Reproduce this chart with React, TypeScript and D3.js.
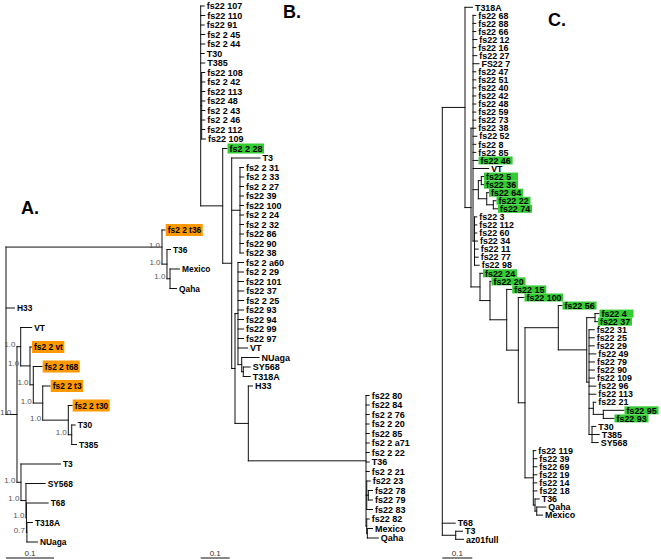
import React, { useEffect, useRef } from "react";
import * as d3 from "d3";

// ---------- DATA (Newick trees, branch lengths in substitutions/site) ----------
const newickA =
  "((fs2_2_t36:0.0067,(T36:0.0073,(Mexico:0.0198,Qaha:0.0135)1.0:0.0063)1.0:0.0104)1.0:0.325,H33:0.0177," +
  "((VT:0.0229,(fs2_2_vt:0.0031,(fs2_2_t68:0.0185,(fs2_2_t3:0.0156,(fs2_2_t30:0.0081,(T30:0.0073,T385:0.01)1.0:0.0071)1.0:0.0533)1.0:0.0196)1.0:0.0069)1.0:0.0194)1.0:0.0077," +
  "(T3:0.0823,(SY568:0.04,(T68:0.0452,(T318A:0.0115,NUaga:0.0219)0.7:0.001)1.0:0.001)1.0:0.0104)1.0:0.0083)1.0:0.0229);";

const newickB =
  "(fs22_107:0.0121,fs22_110:0.0141,fs22_91:0.0121,fs2_2_45:0.0141,fs2_2_44:0.0141,T30:0.0121,T385:0.0141," +
  "(fs22_108:0.0107,fs2_2_42:0.0107,fs22_113:0.0107,fs22_48:0.0107,fs2_2_43:0.0107,fs2_2_46:0.0107,fs22_112:0.0107,fs22_109:0.0131):0.0034," +
  "(fs2_2_28:0.0148,(T3:0.0976," +
  "(fs2_2_31:0.0121,fs2_2_33:0.0128,fs2_2_27:0.0121,fs22_39:0.0121,fs22_100:0.0121,fs2_2_24:0.0121,fs2_2_32:0.0121,fs22_86:0.0121,fs22_90:0.0121,fs22_38:0.0121):0.0286," +
  "((fs2_2_a60:0.019,fs2_2_29:0.019,fs22_101:0.019,fs22_37:0.0197,fs2_2_25:0.0197,fs22_93:0.019,fs22_94:0.019,fs22_99:0.019,fs22_97:0.019,VT:0.0328," +
  "(NUaga:0.0597,(SY568:0.0238,T318A:0.0238):0.0055):0.0128):0.0103," +
  "(H33:0.0145,(fs22_80:0.011,fs22_84:0.011,fs2_2_76:0.011,fs2_2_20:0.011,fs22_85:0.011,fs2_2_a71:0.011,fs2_2_22:0.011,T36:0.011,fs2_2_21:0.011," +
  "(fs22_23:0.0121,(fs22_78:0.0145,fs22_79:0.0145):0.0055,fs22_83:0.02):0.0024," +
  "(fs22_82:0.0086,(Mexico:0.0179,Qaha:0.0379):0.0021):0.0024):0.4059):0.0459):0.0114):0.031):0.0759);";

const newickC =
  "((T318A:0.025,((" +
  "fs22_68:0.0093,fs22_88:0.0093,fs22_66:0.0093,fs22_12:0.0127,fs22_16:0.0093,fs22_27:0.0127,FS22_7:0.02,fs22_47:0.0093,fs22_51:0.0093," +
  "fs22_40:0.0093,fs22_42:0.0093,fs22_48:0.0093,fs22_59:0.0093,fs22_73:0.0093,fs22_38:0.0093,fs22_52:0.0127,fs22_8:0.0093,fs22_85:0.0093," +
  "fs22_46:0.017,VT:0.0523,((fs22_5:0.0073,fs22_36:0.0073):0.01,(fs22_64:0.006,(fs22_22:0.009,fs22_74:0.014):0.022):0.028):0.0177," +
  "(fs22_3:0.0077,fs22_112:0.0077,fs22_60:0.0077,fs22_34:0.01,fs22_11:0.0123,fs22_77:0.0123,fs22_98:0.0157):0.005):0.0067," +
  "(fs22_24:0.0083,(fs22_20:0.0033,(fs22_15:0.0167,(fs22_100:0.019,(" +
  "(fs22_56:0.0123,((fs22_4:0.0133,fs22_37:0.0083):0.0277,(fs22_31:0.0173,fs22_25:0.0173,fs22_29:0.0173,fs22_49:0.0227,fs22_79:0.018,fs22_90:0.018," +
  "fs22_109:0.018,fs22_96:0.0227,fs22_113:0.0227,(fs22_21:0.0083,(fs22_95:0.069,fs22_93:0.0357):0.0333):0.0143," +
  "(T30:0.0127,T385:0.024,SY568:0.0207):0.01):0.0077):0.0947):0.111," +
  "(fs22_119:0.0083,fs22_39:0.0117,fs22_69:0.0117,fs22_19:0.0117,fs22_14:0.0117,fs22_18:0.0123,(T36:0.014,(Qaha:0.0303,Mexico:0.0193):0.0057):0.0057):0.0277" +
  "):0.0223):0.0387):0.0557):0.0333):0.03):0.02):0.0757,T68:0.043,(T3:0.0227,az01full:0.026):0.0447);";

const orangeLeavesA = ["fs2 2 t36", "fs2 2 vt", "fs2 2 t68", "fs2 2 t3", "fs2 2 t30"];
const greenLeavesB = ["fs2 2 28"];
const greenLeavesC = [
  "fs22 46", "fs22 5", "fs22 36", "fs22 64", "fs22 22", "fs22 74", "fs22 24", "fs22 20",
  "fs22 15", "fs22 100", "fs22 56", "fs22 4", "fs22 37", "fs22 95", "fs22 93",
];
const panelTitles = ["A.", "B.", "C."];
const scaleBarValue = 0.1;
const scaleBarLabel = "0.1";

// ---------- helpers ----------
type TNode = { name: string; length: number; children?: TNode[] };

function parseNewick(s: string): TNode {
  let i = 0;
  function node(): TNode {
    const n: TNode = { name: "", length: 0 };
    if (s[i] === "(") {
      i++;
      n.children = [];
      for (;;) {
        n.children.push(node());
        if (s[i] === ",") { i++; continue; }
        if (s[i] === ")") { i++; break; }
        break;
      }
    }
    let name = "";
    while (i < s.length && !",):;".includes(s[i])) name += s[i++];
    n.name = name.replace(/_/g, " ");
    if (s[i] === ":") {
      i++;
      let num = "";
      while (i < s.length && !",);".includes(s[i])) num += s[i++];
      n.length = parseFloat(num);
    }
    return n;
  }
  return node();
}

const FONT = "'Liberation Sans', Arial, Helvetica, sans-serif";

interface PanelCfg {
  newick: string;
  title: string;
  titleX: number;
  titleY: number;
  x0: number;
  px01: number;
  yTop: number;
  yBottom: number;
  fontSize: number;
  boxed: string[];
  boxColor: string;
  boxH: number;
  minBoxW: number;
  showSupport: boolean;
}

const panels: PanelCfg[] = [
  {
    newick: newickA, title: panelTitles[0], titleX: 21, titleY: 214,
    x0: 6, px01: 48, yTop: 230, yBottom: 542, fontSize: 8.4,
    boxed: orangeLeavesA, boxColor: "#FF9900", boxH: 12, minBoxW: 0, showSupport: true,
  },
  {
    newick: newickB, title: panelTitles[1], titleX: 283, titleY: 18,
    x0: 200.7, px01: 29, yTop: 6, yBottom: 538, fontSize: 9,
    boxed: greenLeavesB, boxColor: "#33CC33", boxH: 10, minBoxW: 0, showSupport: false,
  },
  {
    newick: newickC, title: panelTitles[2], titleX: 548, titleY: 26,
    x0: 442.3, px01: 30, yTop: 7.3, yBottom: 539.3, fontSize: 8.9,
    boxed: greenLeavesC, boxColor: "#33CC33", boxH: 8, minBoxW: 34, showSupport: false,
  },
];

function drawPanel(svg: d3.Selection<SVGSVGElement, unknown, null, undefined>, cfg: PanelCfg) {
  const root: any = d3.hierarchy<TNode>(parseNewick(cfg.newick), (d) => d.children);
  const xs = d3.scaleLinear().domain([0, scaleBarValue]).range([cfg.x0, cfg.x0 + cfg.px01]);
  const leaves: any[] = root.leaves();
  const ys = d3.scaleLinear().domain([0, leaves.length - 1]).range([cfg.yTop, cfg.yBottom]);

  root.eachBefore((n: any) => {
    n.cum = n.parent ? n.parent.cum + n.data.length : 0;
    n.px = xs(n.cum);
  });
  leaves.forEach((l, i) => (l.py = ys(i)));
  root.eachAfter((n: any) => {
    if (n.children) n.py = (n.children[0].py + n.children[n.children.length - 1].py) / 2;
  });

  const g = svg.append("g");

  // branches
  let d = "";
  root.each((n: any) => {
    if (n.parent) d += `M${n.parent.px},${n.py}H${n.px}`;
    if (n.children) d += `M${n.px},${n.children[0].py}V${n.children[n.children.length - 1].py}`;
  });
  g.append("path").attr("d", d).attr("fill", "none").attr("stroke", "#111").attr("stroke-width", 1)
    .attr("stroke-linecap", "square");

  // leaf labels
  leaves.forEach((l) => {
    const name: string = l.data.name;
    const isBoxed = cfg.boxed.includes(name);
    const lg = g.append("g");
    const rect = isBoxed ? lg.append("rect") : null;
    const t = lg.append("text")
      .attr("x", l.px + 2.5)
      .attr("y", l.py + cfg.fontSize * 0.36)
      .attr("font-family", FONT)
      .attr("font-size", cfg.fontSize)
      .attr("font-weight", "bold")
      .attr("fill", "#000")
      .text(name);
    if (rect) {
      const w = (t.node() as SVGTextElement).getComputedTextLength();
      rect.attr("x", l.px + 0.5).attr("y", l.py - cfg.boxH / 2)
        .attr("width", Math.max(w + 3.5, cfg.minBoxW)).attr("height", cfg.boxH)
        .attr("fill", cfg.boxColor);
    }
  });

  // support values
  if (cfg.showSupport) {
    root.each((n: any) => {
      if (!n.children || !n.parent || !n.data.name) return;
      const branch = n.px - n.parent.px;
      const ax = branch > 60 ? n.px - 2 : n.parent.px - 1.5;
      const t = g.append("text")
        .attr("x", ax).attr("y", n.py + 0.5)
        .attr("text-anchor", "end")
        .attr("font-family", FONT).attr("font-size", 8).attr("fill", "#555")
        .text(n.data.name);
      const w = (t.node() as SVGTextElement).getComputedTextLength();
      if (ax - w < 0) t.attr("text-anchor", "start").attr("x", 0);
    });
  }

  // scale bar
  const barY = 558;
  g.append("line").attr("x1", xs(0)).attr("x2", xs(scaleBarValue)).attr("y1", barY).attr("y2", barY)
    .attr("stroke", "#111").attr("stroke-width", 1);
  g.append("text").attr("x", (xs(0) + xs(scaleBarValue)) / 2).attr("y", 556)
    .attr("text-anchor", "middle").attr("font-family", FONT).attr("font-size", 8).attr("fill", "#333")
    .text(scaleBarLabel);

  // panel title
  g.append("text").attr("x", cfg.titleX).attr("y", cfg.titleY)
    .attr("font-family", FONT).attr("font-size", 18).attr("font-weight", "bold").attr("fill", "#000")
    .text(cfg.title);
}

export default function App() {
  const ref = useRef<SVGSVGElement>(null);
  useEffect(() => {
    if (!ref.current) return;
    const svg = d3.select(ref.current);
    svg.selectAll("*").remove();
    svg.append("rect").attr("width", 661).attr("height", 559).attr("fill", "#fff");
    panels.forEach((p) => drawPanel(svg as any, p));
  }, []);
  return (
    <svg
      ref={ref}
      width={661}
      height={559}
      style={{ position: "absolute", left: 0, top: 0, display: "block" }}
    />
  );
}
